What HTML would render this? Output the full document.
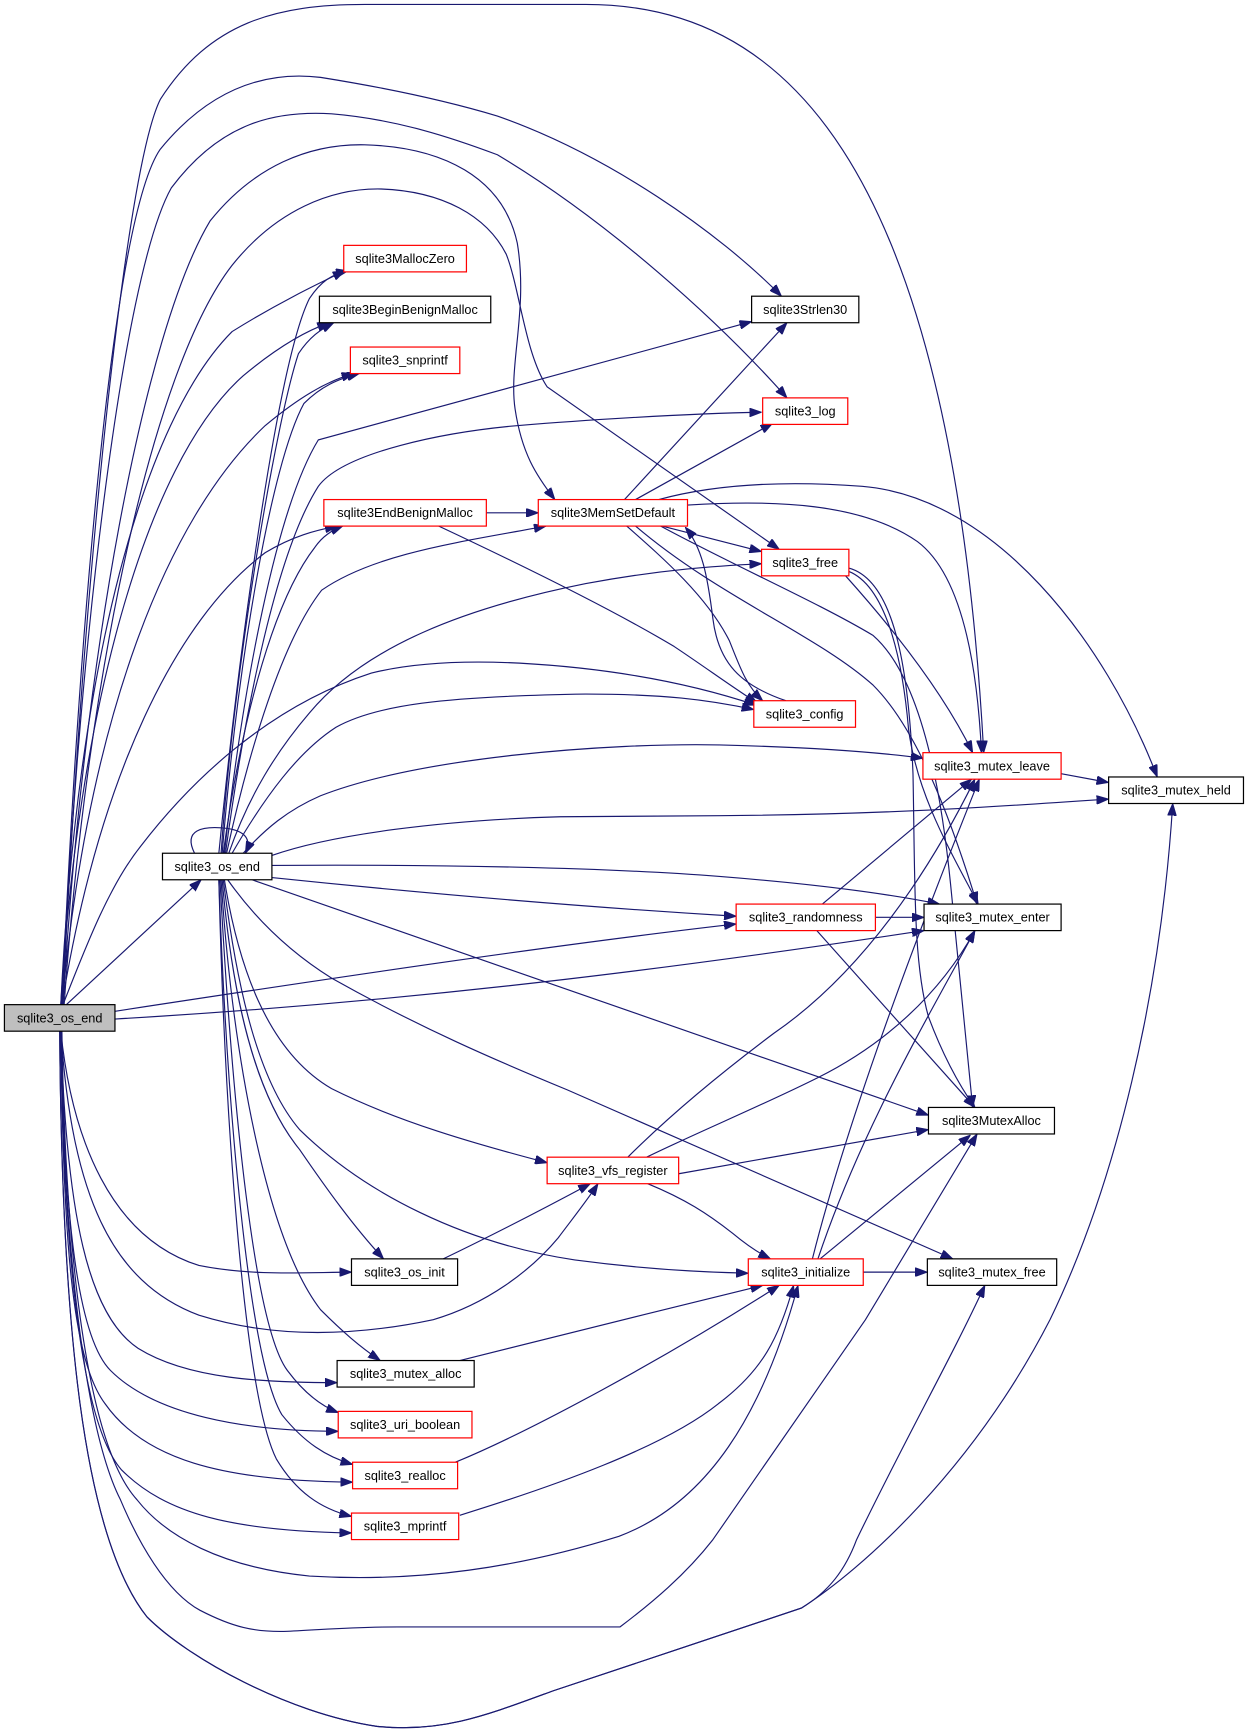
<!DOCTYPE html>
<html>
<head>
<meta charset="utf-8">
<style>
html,body{margin:0;padding:0;background:#fff;}
svg{display:block;}
text{font-family:"Liberation Sans",Arial,sans-serif;font-size:11.5px;fill:#000;}
</style>
</head>
<body>
<svg width="1249" height="1733" viewBox="0 0 1130 1568" preserveAspectRatio="none" xmlns="http://www.w3.org/2000/svg">
<defs>
<marker id="a" viewBox="0 0 11 8" refX="11" refY="4" markerWidth="11" markerHeight="8" orient="auto" markerUnits="userSpaceOnUse">
<path d="M0,0 L11,4 L0,8 z" fill="#191970" stroke="#191970" stroke-width="0.8"/>
</marker>
</defs>
<g fill="none" stroke="#191970" stroke-width="1.05" marker-end="url(#a)">
<path d="M57 909 C70 600,110 160,145 90 C190 20,250 4,330 4 L530 4 C700 4,860 130,890 681"/>
<path d="M56 909 C70 600,100 200,145 135 C190 80,240 64,290 70 C340 78,400 90,450 105 C550 140,650 210,707 268"/>
<path d="M56 909 C70 600,110 250,155 170 C200 110,250 100,300 103 C360 108,410 125,450 140 C550 200,650 290,712 360"/>
<path d="M57 909 C75 600,130 300,190 200 C230 150,280 130,330 131 C400 133,455 160,468 220 C478 280,460 330,466 370 C472 410,485 430,502 452"/>
<path d="M58 909 C80 600,140 330,210 240 C250 190,300 170,345 171 C400 173,440 195,458 230 C470 260,475 320,495 350 L705 497"/>
<path d="M55 909 C70 600,130 380,210 300 C250 275,285 258,312 245"/>
<path d="M55 909 C70 650,130 420,220 340 C250 315,275 300,298 292"/>
<path d="M56 909 C80 650,150 470,240 385 C270 360,295 345,320 338"/>
<path d="M56 909 C90 700,160 560,240 500 C265 485,285 480,305 476"/>
<path d="M57 909 C80 850,100 800,127 766 C170 710,240 640,336 609 C380 598,430 598,470 600 C560 605,630 620,684 638"/>
<path d="M198 772 C215 600,250 330,280 270 C290 255,300 248,315 245"/>
<path d="M200 772 C212 600,250 380,270 320 C280 305,290 298,302 292"/>
<path d="M201 772 C215 600,245 420,275 365 C290 350,305 343,325 338"/>
<path d="M202 772 C220 640,250 540,285 495 C292 485,300 480,310 476"/>
<path d="M203 772 C220 620,250 460,288 398 L680 291"/>
<path d="M204 772 C222 640,250 500,288 440 C310 410,400 390,481 384 C560 378,630 374,689 373"/>
<path d="M205 772 C225 680,255 580,291 534 C340 500,420 490,494 476"/>
<path d="M207 772 C225 720,250 680,280 645 C330 585,420 550,530 528 C600 515,650 512,689 510"/>
<path d="M210 772 C240 720,270 680,304 658 C340 638,400 630,530 628 C600 628,640 633,682 642"/>
<path d="M220 772 C240 750,260 733,290 720 C380 685,550 672,651 674 C730 676,790 680,835 686"/>
<path d="M246 774 C300 755,400 742,507 739 L651 738 C800 737,900 730,1003 723"/>
<path d="M246 783 C400 782,550 785,651 793 C740 800,800 808,850 818"/>
<path d="M246 794 C400 810,550 822,666 829"/>
<path d="M228 796 L840 1009"/>
<path d="M206 796 C230 830,260 860,300 885 C380 930,450 960,513 986 L862 1139"/>
<path d="M203 796 C215 870,240 950,300 985 C360 1015,430 1035,495 1052"/>
<path d="M202 796 C215 900,235 980,271 1022 C330 1080,420 1125,520 1140 C580 1148,630 1151,677 1152"/>
<path d="M201 796 C210 900,230 990,271 1040 C295 1075,320 1110,347 1139"/>
<path d="M200 796 C210 950,240 1120,290 1185 C310 1205,325 1218,344 1231"/>
<path d="M199 796 C210 1000,230 1200,260 1240 C275 1260,290 1272,306 1278"/>
<path d="M198 796 C205 1000,225 1230,255 1280 C275 1305,295 1318,319 1325"/>
<path d="M198 796 C203 1000,220 1260,250 1320 C268 1350,290 1365,318 1372"/>
<path d="M176 772 C165 750,185 748,200 749 C215 750,230 755,222 772"/>
<path d="M60 909 L182 796"/>
<path d="M104 915 C300 885,500 855,666 836"/>
<path d="M104 922 C400 905,650 870,836 842"/>
<path d="M55 933 C65 1030,100 1120,180 1145 C230 1155,280 1151,318 1151"/>
<path d="M55 933 C65 1080,100 1160,180 1190 C260 1215,340 1205,392 1194 C440 1180,480 1150,505 1120 C520 1100,532 1085,541 1071"/>
<path d="M55 933 C60 1100,80 1190,125 1220 C170 1248,240 1251,305 1251"/>
<path d="M55 933 C58 1100,70 1210,100 1240 C140 1280,220 1295,306 1295"/>
<path d="M55 933 C57 1120,65 1230,95 1270 C130 1320,200 1340,319 1341"/>
<path d="M55 933 C58 1150,75 1290,110 1330 C150 1370,210 1385,318 1387"/>
<path d="M56 933 C60 1200,90 1320,124 1357 C150 1390,200 1418,280 1426 C380 1432,470 1418,560 1390 C640 1360,690 1280,722 1163"/>
<path d="M55 933 C58 1150,80 1300,109 1357 C125 1395,150 1440,181 1457 C210 1472,230 1477,260 1476 C300 1474,320 1472,360 1472 L561 1472 C590 1450,620 1425,645 1393 L783 1194 L884 1026"/>
<path d="M54 933 C56 1200,75 1390,133 1463 C170 1500,260 1550,341 1562 C400 1568,440 1552,500 1530 C560 1510,650 1480,725 1455 C780 1420,880 1330,950 1194 C1010 1070,1050 900,1061 727"/>
<path d="M54 933 C56 1200,75 1390,133 1463 C170 1500,260 1550,341 1562 C400 1568,440 1552,500 1530 C560 1510,650 1480,725 1455 C750 1440,765 1420,775 1393 C820 1300,860 1230,891 1163"/>
<path d="M440 464 L487 464"/>
<path d="M397 476 C480 515,560 555,610 585 C640 605,660 620,685 636"/>
<path d="M565 452 L712 292"/>
<path d="M575 452 L699 383"/>
<path d="M596 452 C640 440,700 434,780 440 C900 450,1000 580,1047 703"/>
<path d="M622 457 C700 452,780 455,830 490 C870 520,884 600,888 681"/>
<path d="M599 476 L689 499"/>
<path d="M711 634 C670 620,650 600,645 560 C640 520,635 495,620 477"/>
<path d="M567 476 C600 505,640 540,660 580 C670 605,675 620,690 634"/>
<path d="M575 476 C650 540,740 575,790 620 C830 660,860 740,884 818"/>
<path d="M594 474 C660 510,740 545,790 575 C830 610,850 700,860 800 C868 880,875 950,880 1002"/>
<path d="M765 521 C800 560,850 620,880 681"/>
<path d="M768 517 C800 530,816 590,822 660 C830 720,860 770,885 818"/>
<path d="M768 514 C808 525,822 600,826 700 C828 800,826 870,840 920 C855 960,870 985,882 1002"/>
<path d="M960 700 L1003 708"/>
<path d="M744 818 L879 705"/>
<path d="M792 830 L836 830"/>
<path d="M739 842 L882 1002"/>
<path d="M568 1047 C600 1015,640 980,700 935 C780 880,840 790,882 705"/>
<path d="M585 1047 C630 1025,690 1000,740 975 C800 945,850 900,882 842"/>
<path d="M614 1062 L840 1022"/>
<path d="M586 1071 C620 1085,640 1098,663 1116 C675 1126,685 1133,697 1139"/>
<path d="M401 1139 C430 1125,480 1100,534 1071"/>
<path d="M735 1139 C770 1000,840 820,886 705"/>
<path d="M740 1139 C780 1020,840 920,882 842"/>
<path d="M742 1139 L878 1027"/>
<path d="M781 1151 L839 1151"/>
<path d="M416 1231 C500 1210,600 1185,690 1163"/>
<path d="M412 1323 C480 1295,600 1230,705 1163"/>
<path d="M416 1371 C500 1345,600 1310,650 1270 C690 1240,705 1210,718 1163"/>
</g>
<g stroke-width="1.1">
<rect x="4" y="909" width="100" height="24" fill="#bfbfbf" stroke="#000"/>
<rect x="147" y="772" width="99" height="24" fill="#fff" stroke="#000"/>
<rect x="311" y="222" width="111" height="24" fill="#fff" stroke="#ff0000"/>
<rect x="289" y="268" width="155" height="24" fill="#fff" stroke="#000"/>
<rect x="317" y="314" width="99" height="24" fill="#fff" stroke="#ff0000"/>
<rect x="680" y="268" width="97" height="24" fill="#fff" stroke="#000"/>
<rect x="690" y="360" width="77" height="24" fill="#fff" stroke="#ff0000"/>
<rect x="293" y="452" width="147" height="24" fill="#fff" stroke="#ff0000"/>
<rect x="487" y="452" width="135" height="24" fill="#fff" stroke="#ff0000"/>
<rect x="689" y="497" width="79" height="24" fill="#fff" stroke="#ff0000"/>
<rect x="682" y="634" width="92" height="24" fill="#fff" stroke="#ff0000"/>
<rect x="835" y="681" width="125" height="24" fill="#fff" stroke="#ff0000"/>
<rect x="1003" y="703" width="122" height="24" fill="#fff" stroke="#000"/>
<rect x="666" y="818" width="126" height="24" fill="#fff" stroke="#ff0000"/>
<rect x="836" y="818" width="124" height="24" fill="#fff" stroke="#000"/>
<rect x="840" y="1002" width="114" height="24" fill="#fff" stroke="#000"/>
<rect x="495" y="1047" width="119" height="24" fill="#fff" stroke="#ff0000"/>
<rect x="677" y="1139" width="104" height="24" fill="#fff" stroke="#ff0000"/>
<rect x="839" y="1139" width="117" height="24" fill="#fff" stroke="#000"/>
<rect x="318" y="1139" width="96" height="24" fill="#fff" stroke="#000"/>
<rect x="305" y="1231" width="124" height="24" fill="#fff" stroke="#000"/>
<rect x="306" y="1277" width="121" height="24" fill="#fff" stroke="#ff0000"/>
<rect x="319" y="1323" width="95" height="24" fill="#fff" stroke="#ff0000"/>
<rect x="318" y="1369" width="97" height="24" fill="#fff" stroke="#ff0000"/>
</g>
<g text-anchor="middle">
<text x="54" y="925">sqlite3_os_end</text>
<text x="196.5" y="788">sqlite3_os_end</text>
<text x="366.5" y="238">sqlite3MallocZero</text>
<text x="366.5" y="284">sqlite3BeginBenignMalloc</text>
<text x="366.5" y="330">sqlite3_snprintf</text>
<text x="728.5" y="284">sqlite3Strlen30</text>
<text x="728.5" y="376">sqlite3_log</text>
<text x="366.5" y="468">sqlite3EndBenignMalloc</text>
<text x="554.5" y="468">sqlite3MemSetDefault</text>
<text x="728.5" y="513">sqlite3_free</text>
<text x="728" y="650">sqlite3_config</text>
<text x="897.5" y="697">sqlite3_mutex_leave</text>
<text x="1064" y="719">sqlite3_mutex_held</text>
<text x="729" y="834">sqlite3_randomness</text>
<text x="898" y="834">sqlite3_mutex_enter</text>
<text x="897" y="1018">sqlite3MutexAlloc</text>
<text x="554.5" y="1063">sqlite3_vfs_register</text>
<text x="729" y="1155">sqlite3_initialize</text>
<text x="897.5" y="1155">sqlite3_mutex_free</text>
<text x="366" y="1155">sqlite3_os_init</text>
<text x="367" y="1247">sqlite3_mutex_alloc</text>
<text x="366.5" y="1293">sqlite3_uri_boolean</text>
<text x="366.5" y="1339">sqlite3_realloc</text>
<text x="366.5" y="1385">sqlite3_mprintf</text>
</g>
</svg>
</body>
</html>
